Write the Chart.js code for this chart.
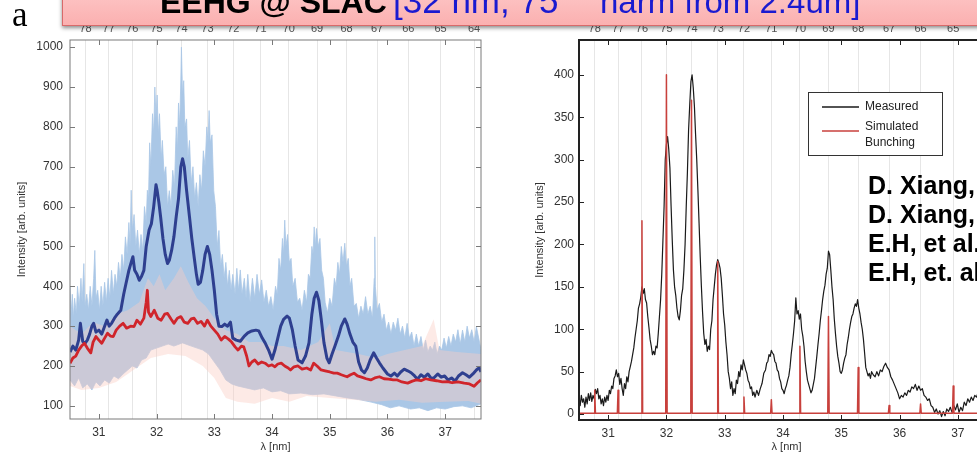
<!DOCTYPE html>
<html>
<head>
<meta charset="utf-8">
<script src="https://cdn.jsdelivr.net/npm/chart.js@4.4.0/dist/chart.umd.min.js"></script>
<style>
  html, body { margin: 0; padding: 0; background: #fff; }
  body { width: 977px; height: 454px; overflow: hidden; position: relative; font-family: "Liberation Sans", Arial, sans-serif; }
  #left { position: absolute; left: 0; top: 0; }
  #right { position: absolute; left: 500px; top: 0; }
  #banner { position: absolute; left: 62px; top: -45px; width: 960px; height: 69px;
            background: linear-gradient(#ffdcdc, #fbb0b0); border: 1px solid #d86a6a;
            box-shadow: 0 2px 4px rgba(0,0,0,.45); }
  .t { position: absolute; white-space: nowrap; line-height: 1; }
  .refs { font-weight: bold; font-size: 25px; color: #000; left: 868px; }
</style>
</head>
<body>
<canvas id="left" width="490" height="454"></canvas>
<canvas id="right" width="510" height="454"></canvas>

<div class="t" style="left:12px;top:-3px;font-family:'Liberation Serif',serif;font-size:35px;">a</div>
<div id="banner"></div>
<div class="t" style="left:160px;top:-14px;font-size:32px;font-weight:bold;">EEHG @ SLAC</div>
<div class="t" style="left:393px;top:-17px;font-size:35px;color:#1a1ad0;">[32 nm, 75<sup style="font-size:20px">th</sup></div>
<div class="t" style="left:600px;top:-15px;font-size:33px;color:#1a1ad0;">harm from 2.4um]</div>

<div class="t refs" style="top:173px;">D. Xiang, et al.</div>
<div class="t refs" style="top:202px;">D. Xiang, et al.</div>
<div class="t refs" style="top:231px;">E.H, et al.</div>
<div class="t refs" style="top:260px;">E.H, et. al.</div>

<script>
// axes
const xTicks = [31, 32, 33, 34, 35, 36, 37];
const harmNum = [78, 77, 76, 75, 74, 73, 72, 71, 70, 69, 68, 67, 66, 65, 64];
const harmLam = [30.77, 31.17, 31.58, 32.00, 32.43, 32.88, 33.33, 33.80, 34.29, 34.78, 35.29, 35.82, 36.36, 36.92, 37.50];
const yTicksL = [100, 200, 300, 400, 500, 600, 700, 800, 900, 1000];
const yTicksR = [0, 50, 100, 150, 200, 250, 300, 350, 400];

// left panel: spread of single shots (bands) and the averages
const blueHiLam = [30.50,30.52,30.54,30.56,30.58,30.61,30.63,30.66,30.69,30.71,30.74,30.76,30.79,30.82,30.85,30.88,30.91,30.93,30.95,30.98,31.01,31.04,31.07,31.10,31.13,31.16,31.19,31.22,31.25,31.28,31.31,31.34,31.37,31.40,31.43,31.46,31.49,31.52,31.54,31.56,31.58,31.61,31.64,31.67,31.70,31.73,31.76,31.79,31.82,31.84,31.86,31.88,31.90,31.93,31.95,31.97,31.99,32.01,32.03,32.05,32.08,32.10,32.13,32.16,32.19,32.22,32.25,32.28,32.31,32.34,32.36,32.38,32.40,32.42,32.43,32.45,32.47,32.49,32.52,32.54,32.57,32.60,32.63,32.66,32.69,32.72,32.75,32.78,32.81,32.84,32.87,32.89,32.91,32.93,32.96,32.99,33.02,33.05,33.08,33.11,33.14,33.17,33.20,33.23,33.26,33.29,33.32,33.36,33.39,33.42,33.45,33.48,33.52,33.55,33.58,33.62,33.66,33.70,33.74,33.78,33.82,33.86,33.90,33.94,33.98,34.02,34.06,34.09,34.12,34.15,34.18,34.20,34.22,34.24,34.27,34.30,34.33,34.36,34.40,34.44,34.48,34.52,34.56,34.60,34.63,34.66,34.69,34.71,34.73,34.75,34.77,34.80,34.83,34.86,34.89,34.92,34.96,35.00,35.04,35.08,35.11,35.14,35.17,35.20,35.23,35.26,35.29,35.32,35.35,35.38,35.42,35.46,35.50,35.54,35.58,35.62,35.66,35.70,35.74,35.77,35.78,35.79,35.82,35.86,35.90,35.94,35.98,36.02,36.06,36.10,36.14,36.18,36.22,36.26,36.30,36.34,36.38,36.42,36.46,36.50,36.54,36.58,36.62,36.66,36.70,36.74,36.78,36.82,36.86,36.90,36.94,36.98,37.02,37.06,37.10,37.14,37.18,37.22,37.26,37.30,37.34,37.38,37.42,37.46,37.50,37.54,37.58,37.62];
const blueHi    = [400,330,380,320,370,330,400,350,420,360,457,350,380,340,400,350,420,490,370,390,340,400,350,410,360,420,370,440,380,430,400,460,420,480,440,524,480,560,500,641,540,580,500,541,480,530,490,600,560,641,620,760,700,833,780,900,820,880,780,833,720,766,680,700,600,640,600,691,650,800,740,860,800,920,1000,880,916,800,820,720,766,660,700,620,660,600,680,640,740,700,800,760,841,760,780,640,600,500,540,450,480,420,460,400,440,390,430,380,445,390,441,380,420,370,430,360,420,370,430,380,416,360,390,350,374,340,400,380,470,440,520,480,566,500,530,460,470,400,420,360,370,340,390,360,430,420,500,480,549,500,545,500,520,440,420,360,333,370,350,420,400,460,430,500,460,508,450,470,400,420,350,357,320,350,330,374,330,350,320,420,524,400,340,357,310,330,290,310,280,310,290,320,280,300,270,307,270,285,250,280,250,274,240,265,235,250,240,260,230,250,240,270,245,274,250,280,260,291,255,290,260,300,270,291,260,299,270,241];
const blueLoLam = [30.50,30.58,30.65,30.72,30.80,30.88,30.95,31.02,31.10,31.18,31.26,31.34,31.42,31.50,31.58,31.66,31.74,31.82,31.90,32.00,32.10,32.20,32.30,32.45,32.60,32.70,32.80,32.90,33.00,33.10,33.20,33.30,33.40,33.55,33.70,33.85,34.00,34.15,34.30,34.50,34.70,34.90,35.10,35.30,35.50,35.70,35.90,36.05,36.20,36.40,36.55,36.70,36.85,37.00,37.15,37.30,37.45,37.62];
const blueLo    = [165,150,170,145,155,140,160,150,165,157,175,168,180,190,200,195,215,220,240,245,250,255,250,258,250,245,240,230,210,190,165,155,150,145,140,145,135,138,130,132,128,130,125,120,116,110,103,95,100,92,95,88,95,92,98,100,95,105];
const pinkHiLam = [30.50,30.70,30.90,31.10,31.30,31.50,31.70,31.85,31.95,32.05,32.15,32.30,32.42,32.55,32.70,32.85,33.00,33.20,33.40,33.60,33.80,34.00,34.20,34.50,34.80,35.00,35.10,35.50,35.80,36.00,36.30,36.60,36.80,36.90,37.20,37.62];
const pinkHi    = [300,280,310,300,330,340,360,420,400,430,390,420,450,410,370,350,320,290,280,260,260,250,250,240,260,307,240,230,220,230,240,250,317,240,235,230];
const pinkLoLam = [30.50,30.70,31.00,31.30,31.60,31.90,32.20,32.50,32.80,33.00,33.20,33.40,33.70,34.00,34.30,34.60,35.00,35.40,35.80,36.20,36.60,37.00,37.40,37.62];
const pinkLo    = [150,140,145,160,190,220,230,225,200,170,120,110,105,120,110,125,120,115,110,115,108,110,112,105];
const blueMeanLam = [30.50,30.55,30.60,30.65,30.68,30.72,30.76,30.80,30.84,30.88,30.91,30.95,31.00,31.05,31.10,31.14,31.18,31.22,31.27,31.32,31.38,31.43,31.47,31.52,31.56,31.59,31.62,31.66,31.70,31.74,31.78,31.82,31.87,31.91,31.95,31.99,32.01,32.04,32.07,32.11,32.15,32.19,32.22,32.26,32.30,32.34,32.38,32.42,32.45,32.48,32.52,32.57,32.61,32.65,32.69,32.72,32.76,32.80,32.84,32.88,32.92,32.96,33.00,33.04,33.08,33.13,33.18,33.23,33.28,33.32,33.38,33.45,33.52,33.58,33.65,33.72,33.77,33.83,33.88,33.94,34.00,34.05,34.10,34.15,34.20,34.26,34.30,34.35,34.40,34.45,34.52,34.58,34.64,34.69,34.73,34.77,34.81,34.85,34.90,34.95,34.99,35.04,35.09,35.15,35.20,35.26,35.30,35.35,35.40,35.45,35.50,35.55,35.60,35.65,35.70,35.76,35.81,35.86,35.92,36.00,36.06,36.12,36.17,36.23,36.29,36.35,36.41,36.47,36.52,36.58,36.64,36.70,36.76,36.81,36.87,36.93,36.99,37.05,37.11,37.17,37.23,37.30,37.36,37.42,37.48,37.54,37.59,37.62];
const blueMean    = [235,250,240,265,307,262,257,265,280,300,307,285,290,280,300,315,300,307,320,330,340,380,407,440,460,474,440,430,415,425,440,500,541,557,600,655,640,610,574,520,480,457,465,490,524,575,620,700,720,700,640,574,520,474,430,405,410,440,480,500,480,440,390,330,300,299,305,300,310,270,265,262,275,283,288,290,288,270,258,240,217,240,270,300,317,325,320,292,250,215,208,225,258,330,370,385,365,320,258,220,208,230,250,275,300,318,305,280,260,250,210,190,183,195,215,233,220,208,195,180,175,182,175,185,192,188,183,175,167,178,172,180,168,171,180,172,175,165,170,162,175,183,178,172,180,190,196,185];
const redMeanLam = [30.50,30.55,30.60,30.65,30.70,30.75,30.80,30.86,30.90,30.95,31.00,31.05,31.10,31.15,31.20,31.25,31.30,31.36,31.42,31.48,31.55,31.61,31.66,31.72,31.78,31.82,31.84,31.86,31.90,31.96,32.02,32.08,32.14,32.19,32.25,32.30,32.36,32.42,32.48,32.54,32.60,32.65,32.71,32.77,32.83,32.88,32.94,33.00,33.06,33.12,33.18,33.24,33.30,33.36,33.41,33.47,33.51,33.56,33.60,33.65,33.70,33.76,33.82,33.88,33.94,34.00,34.05,34.10,34.16,34.22,34.28,34.32,34.38,34.45,34.52,34.60,34.67,34.72,34.78,34.85,34.92,35.00,35.07,35.13,35.20,35.26,35.30,35.36,35.42,35.48,35.55,35.63,35.71,35.78,35.86,35.94,36.02,36.10,36.17,36.25,36.35,36.43,36.50,36.58,36.66,36.75,36.85,36.95,37.04,37.12,37.22,37.33,37.42,37.50,37.56,37.62];
const redMean    = [207,220,225,240,250,257,245,233,260,274,265,257,270,282,275,274,290,300,307,295,300,299,315,305,320,360,390,335,324,340,320,315,330,332,318,307,320,324,310,307,318,320,307,312,300,315,300,290,280,265,274,268,260,248,240,250,248,225,200,210,215,205,210,207,200,203,198,205,207,200,195,190,198,200,192,195,190,207,200,190,188,185,182,182,178,175,173,178,182,175,172,168,165,170,173,168,167,165,165,160,157,162,165,163,168,165,163,160,161,158,160,157,155,149,158,165];

// right panel: measured spectrum and simulated bunching
const measLam = [30.50,30.52,30.54,30.56,30.58,30.60,30.62,30.64,30.66,30.68,30.70,30.72,30.74,30.76,30.78,30.80,30.82,30.84,30.86,30.88,30.90,30.92,30.94,30.96,30.98,31.00,31.02,31.04,31.06,31.08,31.10,31.12,31.14,31.16,31.18,31.20,31.22,31.24,31.26,31.28,31.30,31.32,31.34,31.36,31.38,31.40,31.42,31.44,31.46,31.48,31.50,31.52,31.54,31.56,31.58,31.60,31.62,31.64,31.66,31.68,31.70,31.72,31.74,31.76,31.78,31.80,31.82,31.84,31.86,31.88,31.90,31.92,31.94,31.96,31.98,32.00,32.02,32.04,32.06,32.08,32.10,32.12,32.14,32.16,32.18,32.20,32.22,32.24,32.26,32.28,32.30,32.32,32.34,32.36,32.38,32.40,32.42,32.44,32.46,32.48,32.50,32.52,32.54,32.56,32.58,32.60,32.62,32.64,32.66,32.68,32.70,32.72,32.74,32.76,32.78,32.80,32.82,32.84,32.86,32.88,32.90,32.92,32.94,32.96,32.98,33.00,33.02,33.04,33.06,33.08,33.10,33.12,33.14,33.16,33.18,33.20,33.22,33.24,33.26,33.28,33.30,33.32,33.34,33.36,33.38,33.40,33.42,33.44,33.46,33.48,33.50,33.52,33.55,33.58,33.61,33.64,33.67,33.70,33.72,33.74,33.76,33.78,33.80,33.82,33.84,33.86,33.88,33.90,33.92,33.94,33.96,33.98,34.00,34.02,34.04,34.06,34.08,34.10,34.12,34.14,34.16,34.18,34.20,34.22,34.24,34.26,34.28,34.30,34.32,34.34,34.36,34.38,34.40,34.42,34.44,34.46,34.48,34.50,34.52,34.54,34.56,34.58,34.60,34.62,34.64,34.66,34.68,34.70,34.72,34.74,34.76,34.78,34.80,34.82,34.84,34.86,34.88,34.90,34.92,34.94,34.96,34.98,35.00,35.02,35.04,35.06,35.08,35.10,35.12,35.14,35.16,35.18,35.20,35.22,35.24,35.26,35.28,35.30,35.32,35.34,35.36,35.38,35.40,35.42,35.44,35.46,35.48,35.50,35.52,35.55,35.58,35.61,35.64,35.67,35.70,35.73,35.76,35.79,35.82,35.85,35.88,35.91,35.94,35.97,36.00,36.03,36.06,36.09,36.12,36.15,36.18,36.21,36.24,36.27,36.30,36.33,36.36,36.39,36.42,36.45,36.48,36.51,36.54,36.57,36.60,36.63,36.66,36.69,36.72,36.75,36.78,36.81,36.84,36.87,36.90,36.93,36.96,36.99,37.02,37.05,37.08,37.11,37.14,37.17,37.20,37.23,37.26,37.29,37.32,37.35,37.38,37.42,37.46,37.50,37.55,37.62];
const meas    = [20,10,22,14,18,8,20,12,24,16,25,15,22,18,29,24,30,18,22,12,18,10,20,14,22,16,28,24,33,30,42,45,52,44,48,35,42,30,22,36,30,44,38,50,56,62,70,78,90,100,110,125,130,138,150,142,148,135,131,115,102,88,80,70,74,70,80,78,95,115,135,165,205,245,300,318,327,312,290,245,205,170,150,140,125,115,111,122,140,148,170,200,245,285,335,365,392,400,385,363,330,300,264,225,185,150,120,95,82,88,74,80,76,100,110,135,150,165,176,182,178,172,160,140,118,105,85,70,50,42,30,38,22,30,24,40,36,50,44,58,52,64,58,52,48,40,37,30,32,22,26,20,28,22,30,36,48,52,60,62,70,68,75,72,70,62,60,52,50,42,38,30,28,24,30,34,40,45,55,70,82,95,110,137,118,122,112,118,100,92,80,62,50,40,35,30,25,28,35,42,55,68,82,95,110,122,135,145,152,165,172,192,188,170,150,135,112,95,80,68,60,50,48,52,60,66,70,82,90,100,108,115,118,125,130,127,135,125,118,108,100,88,72,55,50,45,48,42,50,46,44,50,45,52,50,56,60,55,52,44,40,35,30,25,18,22,20,25,22,28,26,32,30,35,28,33,28,30,22,20,16,18,10,8,2,6,0,4,-3,3,-2,6,3,8,2,10,5,12,2,8,4,14,10,18,14,20,16,22,20,26,24,33,28,32,26,35];
const bunchLam = [30.77, 31.17, 31.58, 32.00, 32.43, 32.88, 33.33, 33.80, 34.29, 34.78, 35.29, 35.82, 36.36, 36.92, 37.50];
const bunch    = [28, 28, 228, 400, 370, 180, 20, 17, 80, 115, 55, 10, 12, 33, 20];

const FONT = '"Liberation Sans", Arial, sans-serif';

function pts(lam, val) { return lam.map((x, i) => ({x: x, y: val[i]})); }
function band(hiLam, hi, loLam, lo) { return pts(hiLam, hi).concat(pts(loLam, lo).reverse()); }
function spikes(lam, h) {
  let out = [{x: 30.5, y: 1}];
  lam.forEach((x, i) => { out.push({x: x - 0.012, y: 1}, {x: x, y: h[i]}, {x: x + 0.012, y: 1}); });
  out.push({x: 37.62, y: 1});
  return out;
}

const frame = {
  id: 'frame',
  afterDatasetsDraw(chart, args, o) {
    const {ctx, chartArea: a, scales} = chart;
    ctx.save();
    ctx.strokeStyle = o.color;
    ctx.lineWidth = 1;
    ctx.beginPath();
    xTicks.forEach(v => {
      const x = Math.round(scales.x.getPixelForValue(v)) + 0.5;
      ctx.moveTo(x, a.bottom); ctx.lineTo(x, a.bottom - 5);
      ctx.moveTo(x, a.top); ctx.lineTo(x, a.top + 5);
    });
    o.yTicks.forEach(v => {
      const y = Math.round(scales.y.getPixelForValue(v)) + 0.5;
      ctx.moveTo(a.left, y); ctx.lineTo(a.left + 5, y);
      ctx.moveTo(a.right, y); ctx.lineTo(a.right - 5, y);
    });
    ctx.stroke();
    ctx.lineWidth = o.width;
    ctx.strokeRect(a.left, a.top, a.right - a.left, a.bottom - a.top);
    if (o.legend) {
      const L = o.legend;
      ctx.fillStyle = '#fff';
      ctx.fillRect(L.x, L.y, L.w, L.h);
      ctx.lineWidth = 1;
      ctx.strokeStyle = '#333';
      ctx.strokeRect(L.x + 0.5, L.y + 0.5, L.w, L.h);
      ctx.lineWidth = 1.3;
      ctx.strokeStyle = '#1a1a1a';
      ctx.beginPath(); ctx.moveTo(L.x + 14, L.y + 15); ctx.lineTo(L.x + 51, L.y + 15); ctx.stroke();
      ctx.strokeStyle = '#c8403c';
      ctx.beginPath(); ctx.moveTo(L.x + 14, L.y + 39); ctx.lineTo(L.x + 51, L.y + 39); ctx.stroke();
      ctx.fillStyle = '#222';
      ctx.font = '12px ' + FONT;
      ctx.textBaseline = 'middle';
      ctx.fillText('Measured', L.x + 57, L.y + 15);
      ctx.fillText('Simulated', L.x + 57, L.y + 35);
      ctx.fillText('Bunching', L.x + 57, L.y + 51);
    }
    ctx.restore();
  }
};

function makeChart(id, o) {
  return new Chart(document.getElementById(id), {
    type: 'line',
    data: {datasets: o.datasets},
    options: {
      responsive: false, animation: false, devicePixelRatio: 1,
      layout: {padding: {left: 0, right: o.padRight, top: 0, bottom: 0}},
      elements: {point: {radius: 0}, line: {tension: 0, borderJoinStyle: 'round'}},
      plugins: {legend: {display: false}, tooltip: {enabled: false},
                frame: {color: o.frameColor, width: o.frameWidth, yTicks: o.yTicks, legend: o.legend}},
      scales: {
        x: {
          type: 'linear', position: 'bottom', min: 30.5, max: 37.62,
          afterBuildTicks: s => { s.ticks = xTicks.map(v => ({value: v})); },
          afterFit: s => { s.height = o.bottomH; },
          grid: {display: false, drawTicks: false}, border: {display: false},
          ticks: {font: {size: 12, family: FONT}, color: '#333', padding: 6, maxRotation: 0, autoSkip: false,
                  callback: v => String(v)},
          title: {display: true, text: 'λ [nm]', font: {size: 11, family: FONT}, color: '#333', padding: {top: 0, bottom: 0}}
        },
        top: {
          type: 'linear', position: 'top', min: 30.5, max: 37.62,
          afterBuildTicks: s => { s.ticks = harmLam.map(v => ({value: v})); },
          afterFit: s => { s.height = 40; },
          grid: {color: '#e6e6e6', drawTicks: false, lineWidth: 1}, border: {display: false},
          ticks: {font: {size: 11, family: FONT}, color: '#555', padding: 4, maxRotation: 0, autoSkip: false,
                  callback: (v, i) => String(harmNum[i])}
        },
        y: {
          type: 'linear', min: o.yMin, max: o.yMax,
          afterBuildTicks: s => { s.ticks = o.yTicks.map(v => ({value: v})); },
          afterFit: s => { s.width = o.yW; },
          grid: {display: false, drawTicks: false}, border: {display: false},
          ticks: {font: {size: 12, family: FONT}, color: '#333', padding: o.yPad, callback: v => String(v)},
          title: {display: true, text: 'Intensity [arb. units]', font: {size: 11, family: FONT}, color: '#333',
                  padding: {top: o.yTitlePad, bottom: 0}}
        }
      }
    },
    plugins: [frame]
  });
}

makeChart('left', {
  padRight: 9, bottomH: 35, yW: 70, yPad: 7, yTitlePad: 15.4,
  yMin: 67, yMax: 1018, yTicks: yTicksL, frameColor: '#7a7a7a', frameWidth: 1,
  datasets: [
    {data: band(blueHiLam, blueHi, blueLoLam, blueLo), fill: 'shape', backgroundColor: 'rgb(170,199,230)',
     borderColor: 'rgb(170,199,230)', borderWidth: 0.8, order: 4},
    {data: band(pinkHiLam, pinkHi, pinkLoLam, pinkLo), fill: 'shape', backgroundColor: 'rgba(250,204,196,0.42)',
     borderWidth: 0, borderColor: 'rgba(0,0,0,0)', order: 3},
    {data: pts(blueMeanLam, blueMean), borderColor: '#2e3f8f', borderWidth: 3, fill: false, order: 2},
    {data: pts(redMeanLam, redMean), borderColor: '#d0252b', borderWidth: 2.8, fill: false, order: 1}
  ]
});

makeChart('right', {
  padRight: 16, bottomH: 34, yW: 79, yPad: 5, yTitlePad: 33.4,
  yMin: -7, yMax: 441, yTicks: yTicksR, frameColor: '#222', frameWidth: 2,
  legend: {x: 308, y: 92, w: 134, h: 63},
  datasets: [
    {data: spikes(bunchLam, bunch), borderColor: '#c8403c', borderWidth: 1.5, fill: false, order: 1},
    {data: pts(measLam, meas), borderColor: '#1a1a1a', borderWidth: 1.2, fill: false, order: 2}
  ]
});
</script>
</body>
</html>
